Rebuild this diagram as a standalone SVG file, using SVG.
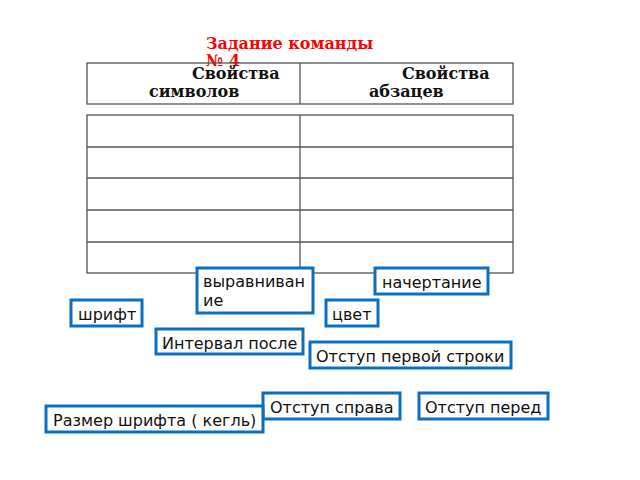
<svg xmlns="http://www.w3.org/2000/svg" width="640" height="480" viewBox="0 0 640 480">
<style>
.t{fill:none;stroke:#555;stroke-width:1.3}
.b{fill:#fff;stroke:#0a6fc2;stroke-width:3}
.l{font-family:"DejaVu Sans",sans-serif;font-size:16px;fill:#111}
.h{font-family:"DejaVu Serif",serif;font-size:16px;font-weight:bold;fill:#111}
.r{font-family:"DejaVu Serif",serif;font-size:16px;font-weight:bold;fill:#f00}
</style>
<rect width="640" height="480" fill="#fff"/>
<g id="title"><text class="r" x="206" y="49">Задание команды</text><text class="r" x="206" y="66">№ 4</text></g>
<g id="table">
<rect class="t" x="87" y="63" width="426" height="41"/>
<line class="t" x1="300" y1="63" x2="300" y2="104"/>
<text class="h" x="192" y="79">Свойства</text><text class="h" x="149" y="97">символов</text>
<text class="h" x="402" y="79">Свойства</text><text class="h" x="369" y="97">абзацев</text>
<rect class="t" x="87" y="115" width="426" height="158"/>
<line class="t" x1="300" y1="115" x2="300" y2="273"/>
<line class="t" x1="87" y1="147" x2="513" y2="147"/>
<line class="t" x1="87" y1="178" x2="513" y2="178"/>
<line class="t" x1="87" y1="210" x2="513" y2="210"/>
<line class="t" x1="87" y1="242" x2="513" y2="242"/>
</g>
<g id="n1"><rect class="b" x="197" y="268" width="116" height="45"/><text class="l" x="203" y="287">выравниван</text><text class="l" x="203" y="306">ие</text></g>
<g id="n2"><rect class="b" x="375" y="268" width="113" height="26"/><text class="l" x="382" y="288">начертание</text></g>
<g id="n3"><rect class="b" x="71" y="300" width="71" height="26"/><text class="l" x="78" y="320">шрифт</text></g>
<g id="n4"><rect class="b" x="326" y="300" width="52" height="26"/><text class="l" x="332" y="320">цвет</text></g>
<g id="n5"><rect class="b" x="156" y="329" width="147" height="25"/><text class="l" x="162" y="349">Интервал после</text></g>
<g id="n6"><rect class="b" x="310" y="342" width="201" height="26"/><text class="l" x="316" y="362">Отступ первой строки</text></g>
<g id="n7"><rect class="b" x="263" y="393" width="137" height="26"/><text class="l" x="270" y="413">Отступ справа</text></g>
<g id="n8"><rect class="b" x="419" y="393" width="129" height="26"/><text class="l" x="425" y="413">Отступ перед</text></g>
<g id="n9"><rect class="b" x="46" y="406" width="217" height="26"/><text class="l" x="53" y="426">Размер шрифта ( кегль)</text></g>
</svg>
